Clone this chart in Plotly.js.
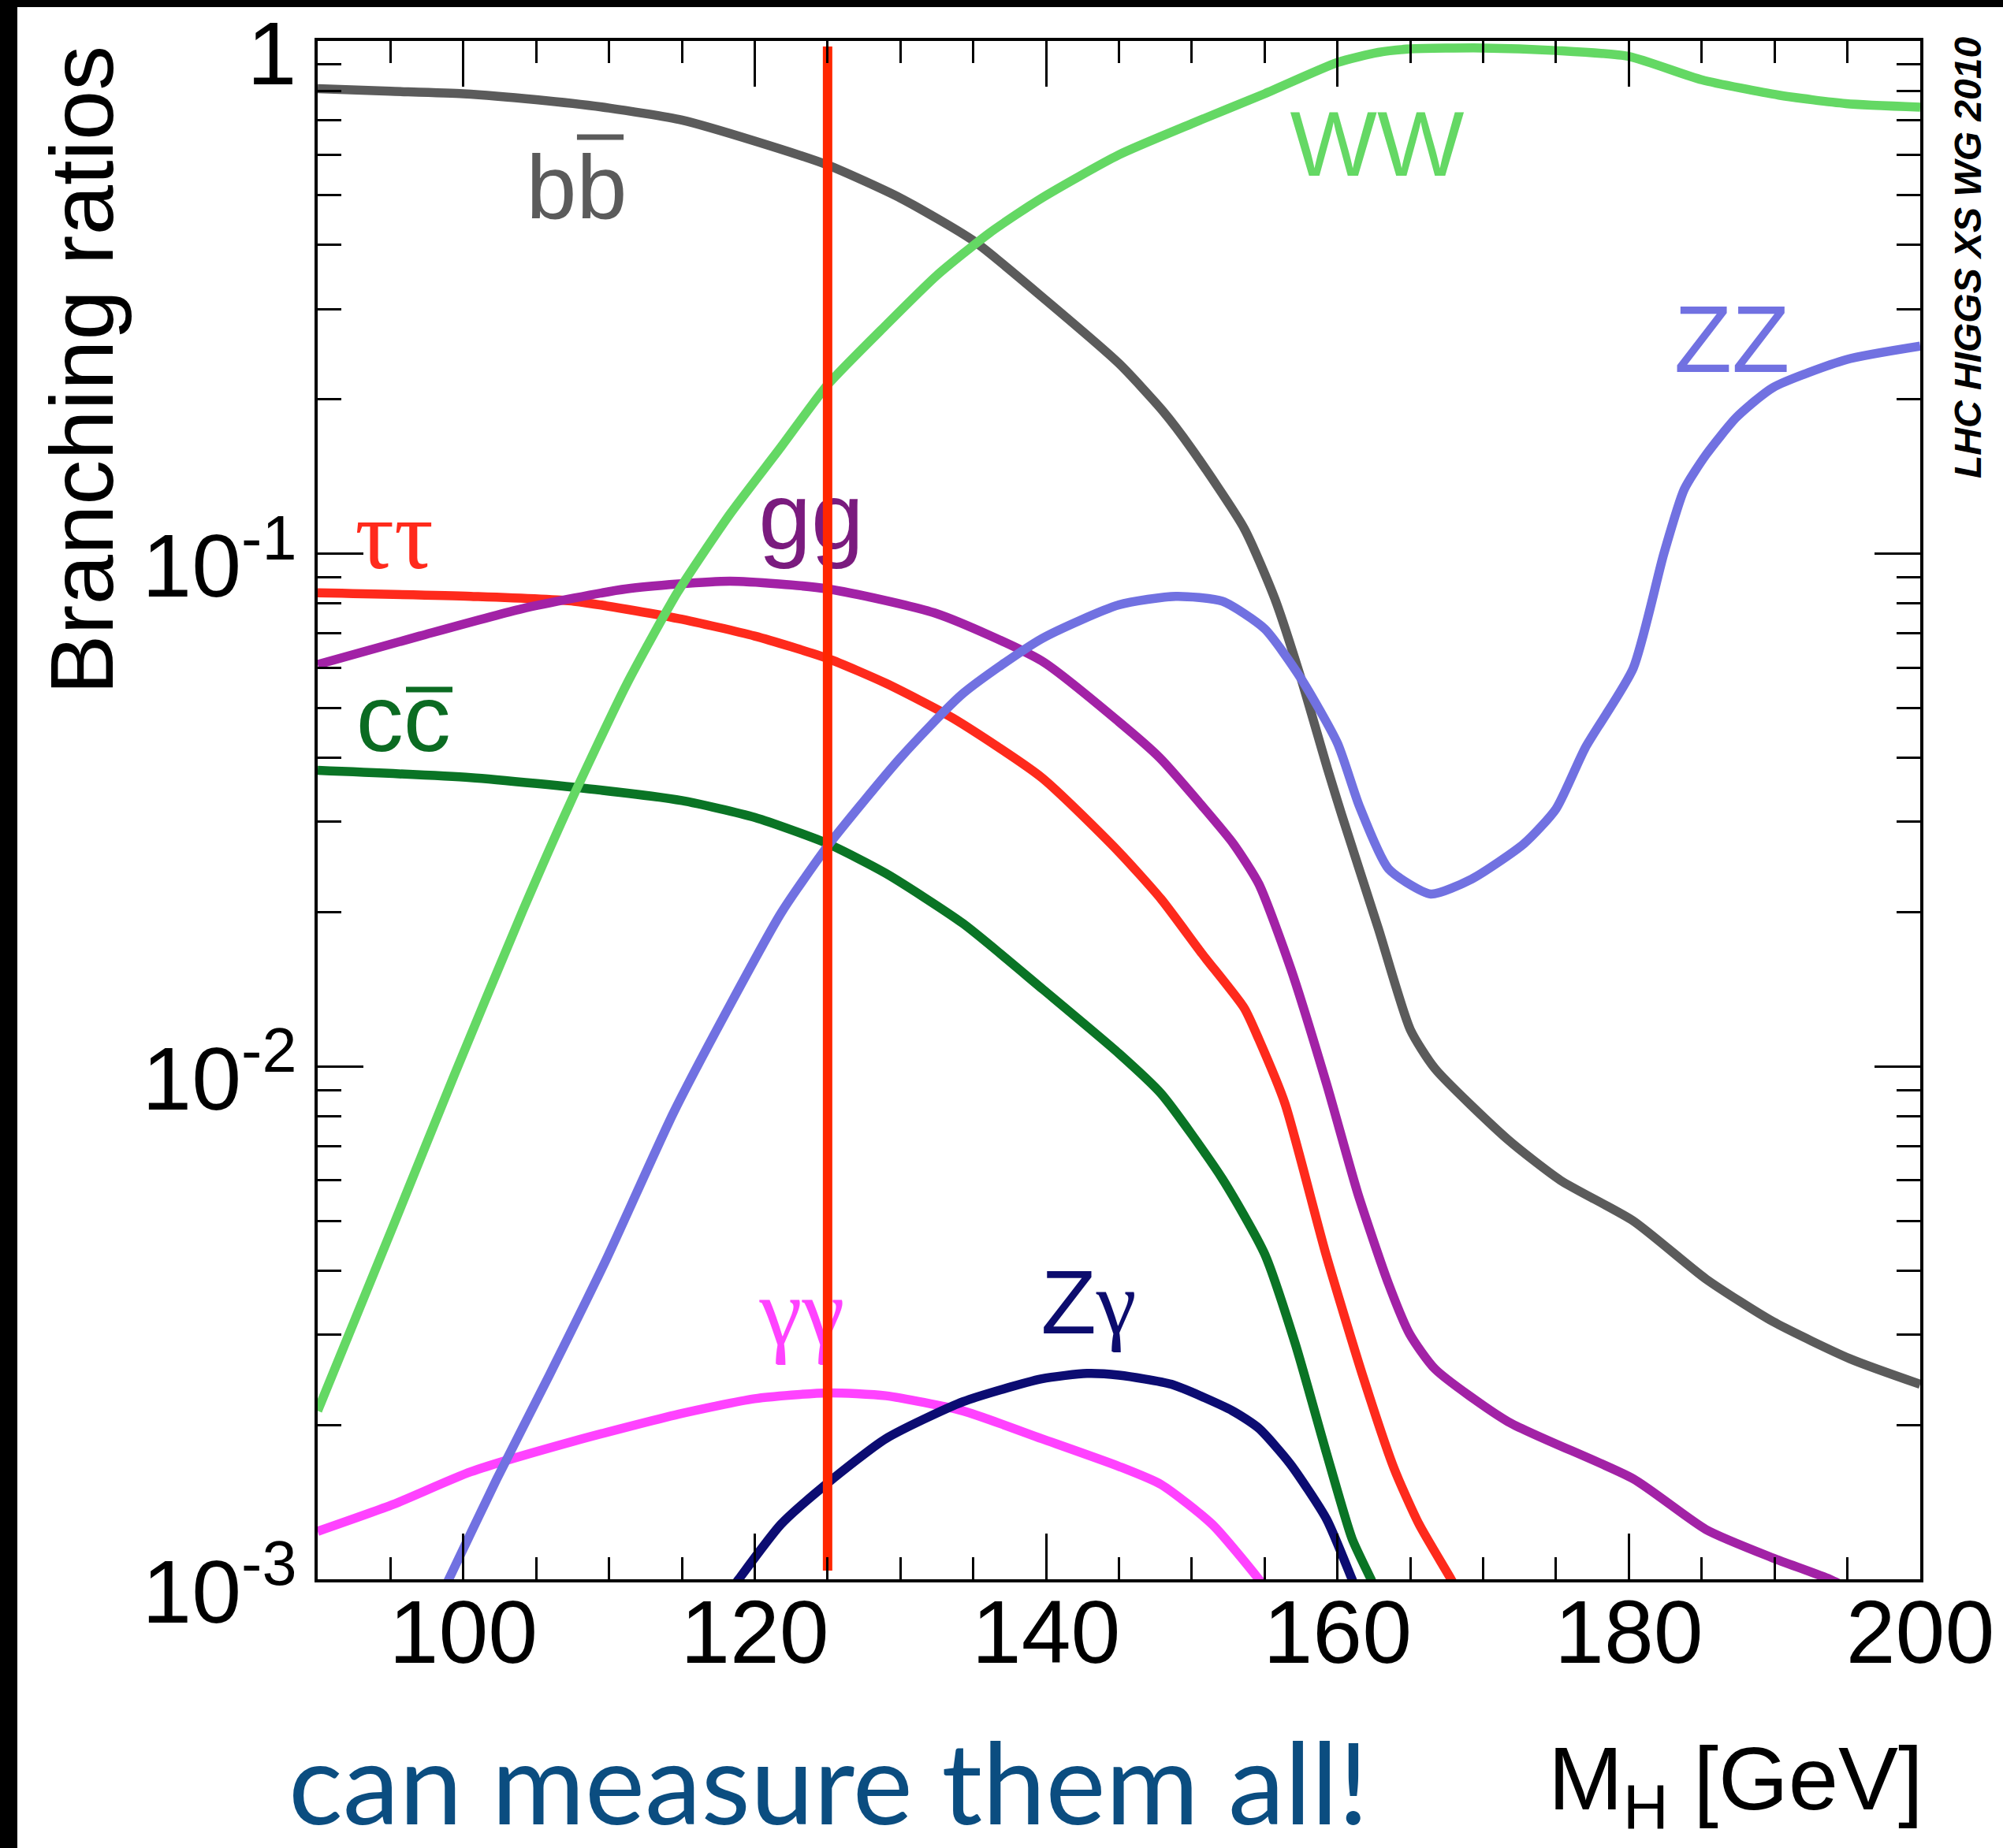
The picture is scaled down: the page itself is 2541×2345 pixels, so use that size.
<!DOCTYPE html>
<html>
<head>
<meta charset="utf-8">
<script src="https://cdn.plot.ly/plotly-3.0.1.min.js"></script>
<style>
html,body{margin:0;padding:0;background:#000;overflow:hidden;width:2541px;height:2345px;}
#plot{position:absolute;left:22px;top:9px;width:2519px;height:2336px;background:#fff;}
</style>
</head>
<body>
<div id="plot"></div>
<script>
// ---------- data ----------
const bbMass = [90, 95, 100, 105, 110, 115, 120, 125, 130, 135, 140, 145, 148, 150, 153.6, 155.7, 157.5, 159.3, 160.3, 162.8, 165, 166.7, 171.7, 175.3, 180.3, 185.3, 189.9, 195.2, 200];
const bbBR   = [0.807, 0.798, 0.789, 0.768, 0.740, 0.701, 0.638, 0.573, 0.494, 0.408, 0.312, 0.235, 0.190, 0.160, 0.112, 0.0817, 0.0571, 0.0382, 0.0309, 0.0186, 0.0118, 0.0099, 0.0072, 0.0060, 0.0050, 0.00385, 0.00318, 0.00269, 0.0024];

const wwMass = [90, 95.2, 99.4, 104.1, 107.3, 111.2, 114.7, 118.3, 121.8, 125, 129, 132.5, 136.1, 139.7, 145, 150, 155, 160, 162.8, 165, 170, 175, 180, 185, 190.3, 194.9, 200];
const wwBR   = [0.00213, 0.0049, 0.00966, 0.0202, 0.0325, 0.0556, 0.0841, 0.1195, 0.1615, 0.2135, 0.279, 0.349, 0.422, 0.494, 0.600, 0.690, 0.789, 0.908, 0.950, 0.965, 0.969, 0.958, 0.933, 0.840, 0.784, 0.755, 0.743];

const zzMass = [96, 99, 102.3, 105.9, 109.8, 114.4, 118, 121.8, 125, 130, 134.3, 139.7, 145, 148.9, 152.1, 155, 157.5, 160, 161.5, 163.5, 166.4, 169.2, 172.8, 175, 177, 180.3, 182.4, 183.8, 185.3, 187.4, 189.9, 194.9, 200];
const zzBR   = [0.00066, 0.0010, 0.00157, 0.0025, 0.0042, 0.0081, 0.0127, 0.0199, 0.0269, 0.0400, 0.0534, 0.0683, 0.0795, 0.0826, 0.0808, 0.0714, 0.0571, 0.0427, 0.0322, 0.0243, 0.0217, 0.0232, 0.0272, 0.0318, 0.0418, 0.0598, 0.100, 0.1335, 0.156, 0.1847, 0.211, 0.239, 0.254];

const tautauMass = [90, 100.5, 107.6, 114.8, 120, 125, 129, 133.6, 139.7, 145, 147.9, 150.7, 153.6, 154.6, 156.4, 159.2, 161.8, 163.9, 165.6, 167.8, 169.5];
const tautauBR   = [0.0839, 0.0826, 0.0808, 0.0747, 0.0691, 0.0625, 0.0559, 0.0478, 0.0366, 0.0262, 0.0212, 0.0166, 0.0130, 0.0113, 0.00846, 0.00431, 0.00246, 0.00164, 0.00128, 0.0010, 0.00082];

const ggMass = [90, 97, 104, 111.2, 118.3, 125, 132.5, 139.7, 145, 147.8, 150.8, 152.85, 154.6, 156.8, 159.25, 161.4, 163.5, 164.95, 166.7, 171.7, 180.3, 185.3, 189.9, 193.8, 196];
const ggBR   = [0.0608, 0.0691, 0.0781, 0.0854, 0.0884, 0.0854, 0.0764, 0.0618, 0.0470, 0.0400, 0.0320, 0.0272, 0.0227, 0.0155, 0.00925, 0.00565, 0.00377, 0.00301, 0.00257, 0.00203, 0.00157, 0.00125, 0.00110, 0.0010, 0.00093];

const ccMass = [90, 100.5, 109.4, 115, 120, 125, 129, 134.3, 139.7, 145, 147.9, 152.1, 155, 157.1, 159.25, 161, 162.3, 163.5];
const ccBR   = [0.0378, 0.0366, 0.0346, 0.0330, 0.0306, 0.0272, 0.0238, 0.0190, 0.0142, 0.0106, 0.00885, 0.00604, 0.00431, 0.00288, 0.00176, 0.0012, 0.0010, 0.00084];

const gamgamMass = [90, 95.2, 100.5, 107.6, 114.8, 120, 125, 129, 134.3, 139.7, 145, 147.9, 151.4, 154.6, 156];
const gamgamBR   = [0.00124, 0.0014, 0.00162, 0.00186, 0.0021, 0.00225, 0.00231, 0.00228, 0.00213, 0.00188, 0.00166, 0.00153, 0.00128, 0.0010, 0.00088];

const zgamMass = [117.5, 118.9, 121.8, 125, 129, 134.3, 139.7, 142.8, 145, 148.6, 152.8, 154.6, 156.75, 159.25, 161, 162];
const zgamBR   = [0.00088, 0.0010, 0.00128, 0.00154, 0.00188, 0.00222, 0.00246, 0.00252, 0.0025, 0.0024, 0.00213, 0.00197, 0.00168, 0.00131, 0.0010, 0.00085];

const higgsMass = [125, 125];
const higgsLineBR = [0.9755, 0.00104];

const xTickVals = [100, 120, 140, 160, 180, 200];
const xTickText = ['100', '120', '140', '160', '180', '200'];
const yTickVals = [0.001, 0.01, 0.1, 1];
const yTickText = ['10<sup>-3</sup>', '10<sup>-2</sup>', '10<sup>-1</sup>', '1'];
const yMinorVals = [0.002, 0.003, 0.004, 0.005, 0.006, 0.007, 0.008, 0.009,
                    0.02, 0.03, 0.04, 0.05, 0.06, 0.07, 0.08, 0.09,
                    0.2, 0.3, 0.4, 0.5, 0.6, 0.7, 0.8, 0.9];

// ---------- styles ----------
const SANS = 'Liberation Sans, Arial, Helvetica, sans-serif';
const SERIF = 'Liberation Serif, Times New Roman, serif';
const LW = 11.5;

function curve(x, y, color) {
  return {x: x, y: y, type: 'scatter', mode: 'lines',
          line: {color: color, width: LW, shape: 'spline', smoothing: 0.6}, hoverinfo: 'skip'};
}
function label(x, y, txt, size, color, family) {
  return {x: [x], y: [y], type: 'scatter', mode: 'text', text: [txt], textposition: 'middle center',
          textfont: {family: family || SANS, size: size, color: color}, hoverinfo: 'skip', cliponaxis: false};
}

const traces = [
  curve(bbMass, bbBR, '#5b5b5b'),
  curve(tautauMass, tautauBR, '#fe2a1c'),
  curve(ccMass, ccBR, '#0a7425'),
  curve(ggMass, ggBR, '#a222a6'),
  curve(gamgamMass, gamgamBR, '#ff42ff'),
  curve(zgamMass, zgamBR, '#0c0c72'),
  curve(wwMass, wwBR, '#64d864'),
  curve(zzMass, zzBR, '#7171e1'),
  label(107.77, 0.4994, 'bb', 115, '#5b5b5b'),
  label(95.88, 0.04585, 'cc', 120, '#0b6b22'),
  label(95.25, 0.1046, 'ττ', 124, '#ff2a1c', SERIF),
  label(123.87, 0.1135, 'gg', 120, '#7a1b7e'),
  label(162.72, 0.6056, 'WW', 117, '#64d864'),
  label(187.07, 0.2516, 'ZZ', 120, '#7171e1'),
  label(123.25, 0.003203, 'γγ', 122, '#ff42ff', SERIF),
  label(142.92, 0.003343, 'Z<span style="font-family:Liberation Serif">γ</span>', 115, '#0c0c6e'),
  {x: higgsMass, y: higgsLineBR, type: 'scatter', mode: 'lines', line: {color: '#ff2600', width: 12}, hoverinfo: 'skip'}
];

const axisCommon = {
  showgrid: false, zeroline: false, showline: true, linecolor: '#000', linewidth: 4,
  mirror: 'ticks', ticks: 'inside', ticklen: 58, tickwidth: 3, tickcolor: '#000',
  tickmode: 'array', automargin: false, ticklabeloverflow: 'allow',
  tickfont: {family: SANS, size: 113, color: '#000'}
};

const layout = {
  width: 2519, height: 2336,
  margin: {l: 381, r: 105, t: 43, b: 341, pad: 0},
  paper_bgcolor: '#ffffff', plot_bgcolor: '#ffffff',
  showlegend: false,
  font: {family: SANS, color: '#000'},
  xaxis: Object.assign({}, axisCommon, {
    range: [90, 200], tickvals: xTickVals, ticktext: xTickText,
    ticklabelstandoff: -34,
    minor: {ticks: 'inside', ticklen: 28, tickwidth: 3, tickcolor: '#000', tickmode: 'linear', tick0: 90, dtick: 5, showgrid: false}
  }),
  yaxis: Object.assign({}, axisCommon, {
    type: 'log', range: [-3, 0], tickvals: yTickVals, ticktext: yTickText,
    ticklabelshift: 15,
    minor: {ticks: 'inside', ticklen: 30, tickwidth: 3, tickcolor: '#000', tickmode: 'array', tickvals: yMinorVals, showgrid: false}
  }),
  shapes: [
    {type: 'line', xref: 'paper', yref: 'paper', x0: 0.1618, x1: 0.1909, y0: 0.9375, y1: 0.9375, line: {color: '#5b5b5b', width: 7}},
    {type: 'line', xref: 'paper', yref: 'paper', x0: 0.0551, x1: 0.0841, y0: 0.5784, y1: 0.5784, line: {color: '#0b6b22', width: 7}}
  ],
  annotations: [
    {xref: 'paper', yref: 'paper', x: -0.1473, y: 0.7859, xanchor: 'center', yanchor: 'middle', textangle: -90,
     text: 'Branching ratios', showarrow: false, font: {family: SANS, size: 114, color: '#000'}},
    {xref: 'paper', yref: 'paper', x: 1.003, y: -0.096, xanchor: 'right', yanchor: 'top',
     text: 'M<sub>H</sub> [GeV]', showarrow: false, font: {family: SANS, size: 114, color: '#000'}},
    {xref: 'paper', yref: 'paper', x: 1.0295, y: 0.8591, xanchor: 'center', yanchor: 'middle', textangle: -90,
     text: '<b><i>LHC HIGGS XS WG 2010</i></b>', showarrow: false, font: {family: SANS, size: 48, color: '#000'}},
    {xref: 'paper', yref: 'paper', x: -0.0192, y: -0.1311, xanchor: 'left', yanchor: 'middle',
     text: 'can measure them all!', showarrow: false, font: {family: 'Lato, Open Sans, sans-serif', size: 144, color: '#0b4d80'}}
  ]
};

Plotly.newPlot('plot', traces, layout, {displayModeBar: false, staticPlot: true});
</script>
</body>
</html>
